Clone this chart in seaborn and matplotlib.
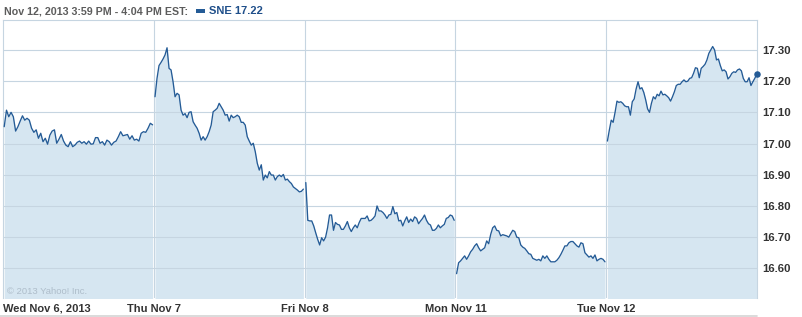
import numpy as np
import pandas as pd
import matplotlib
matplotlib.use("Agg")
import matplotlib.pyplot as plt
from matplotlib.lines import Line2D
from matplotlib.patches import Rectangle
import seaborn as sns

# ---------------- data ----------------
day_labels = ["Wed Nov 6, 2013", "Thu Nov 7", "Fri Nov 8", "Mon Nov 11", "Tue Nov 12"]

wed = [17.054, 17.107, 17.086, 17.100, 17.086, 17.040, 17.054, 17.072, 17.089, 17.075,
       17.081, 17.075, 17.049, 17.036, 17.044, 17.017, 17.033, 17.006, 17.017, 16.998,
       17.027, 17.040, 17.044, 17.001, 17.014, 17.029, 17.008, 16.995, 16.990, 17.006,
       16.990, 16.995, 17.004, 17.008, 17.001, 17.006, 16.998, 17.008, 16.998, 16.999,
       17.019, 17.019, 17.001, 17.006, 16.995, 17.011, 17.006, 16.995, 17.004, 17.008,
       17.022, 17.038, 17.025, 17.027, 17.029, 17.014, 17.025, 17.011, 17.014, 17.008,
       17.033, 17.038, 17.036, 17.049, 17.065, 17.060]

thu = [17.150, 17.209, 17.250, 17.260, 17.271, 17.284, 17.307, 17.241, 17.236, 17.198,
       17.150, 17.161, 17.156, 17.107, 17.091, 17.096, 17.083, 17.100, 17.102, 17.070,
       17.059, 17.049, 17.033, 17.011, 17.022, 17.011, 17.022, 17.038, 17.059, 17.102,
       17.107, 17.113, 17.129, 17.118, 17.107, 17.091, 17.093, 17.072, 17.091, 17.083,
       17.086, 17.091, 17.086, 17.068, 17.068, 17.059, 17.022, 17.008, 16.995, 17.001,
       16.974, 16.937, 16.915, 16.932, 16.883, 16.899, 16.890, 16.910, 16.899, 16.899,
       16.883, 16.894, 16.899, 16.894, 16.901, 16.883, 16.886, 16.878, 16.872, 16.861,
       16.856, 16.851, 16.845, 16.847, 16.854]

fri = [16.875, 16.754, 16.752, 16.752, 16.736, 16.714, 16.693, 16.675, 16.698, 16.688,
       16.700, 16.730, 16.771, 16.771, 16.722, 16.747, 16.741, 16.739, 16.725, 16.725,
       16.736, 16.750, 16.730, 16.718, 16.730, 16.739, 16.730, 16.747, 16.760, 16.760,
       16.760, 16.768, 16.752, 16.754, 16.760, 16.768, 16.800, 16.784, 16.784, 16.779,
       16.771, 16.760, 16.771, 16.773, 16.798, 16.775, 16.779, 16.752, 16.754, 16.736,
       16.752, 16.765, 16.747, 16.758, 16.750, 16.765, 16.760, 16.743, 16.752, 16.760,
       16.771, 16.754, 16.743, 16.739, 16.722, 16.722, 16.728, 16.739, 16.730, 16.736,
       16.741, 16.760, 16.763, 16.771, 16.768, 16.754]

mon = [16.583, 16.618, 16.624, 16.632, 16.640, 16.629, 16.640, 16.653, 16.661, 16.672,
       16.679, 16.666, 16.656, 16.661, 16.666, 16.688, 16.679, 16.709, 16.730, 16.736,
       16.722, 16.720, 16.704, 16.708, 16.706, 16.704, 16.700, 16.711, 16.722, 16.718,
       16.700, 16.698, 16.675, 16.668, 16.664, 16.656, 16.647, 16.645, 16.632, 16.629,
       16.626, 16.629, 16.624, 16.640, 16.632, 16.640, 16.629, 16.621, 16.621, 16.621,
       16.626, 16.634, 16.645, 16.658, 16.672, 16.672, 16.682, 16.686, 16.686, 16.679,
       16.672, 16.668, 16.682, 16.679, 16.650, 16.643, 16.636, 16.640, 16.632, 16.643,
       16.624, 16.629, 16.632, 16.629, 16.621]

tue = [17.008, 17.043, 17.075, 17.068, 17.100, 17.136, 17.132, 17.134, 17.129, 17.121,
       17.118, 17.118, 17.091, 17.134, 17.143, 17.175, 17.198, 17.175, 17.179, 17.164,
       17.140, 17.111, 17.100, 17.129, 17.150, 17.143, 17.158, 17.153, 17.168, 17.156,
       17.158, 17.153, 17.147, 17.136, 17.150, 17.166, 17.186, 17.190, 17.190, 17.198,
       17.204, 17.198, 17.200, 17.209, 17.211, 17.225, 17.243, 17.241, 17.211, 17.241,
       17.247, 17.254, 17.268, 17.289, 17.300, 17.311, 17.300, 17.268, 17.271, 17.250,
       17.233, 17.236, 17.230, 17.207, 17.214, 17.225, 17.230, 17.228, 17.236, 17.239,
       17.233, 17.209, 17.198, 17.198, 17.211, 17.186, 17.198, 17.209, 17.222]

y_ticks = [16.60, 16.70, 16.80, 16.90, 17.00, 17.10, 17.20, 17.30]
title_text = "Nov 12, 2013 3:59 PM - 4:04 PM EST:"
legend_text = "SNE 17.22"
copyright_text = "\u00a9 2013 Yahoo! Inc."

# ---------------- styling ----------------
sns.set_style("white")
plt.rcParams["font.family"] = ["Liberation Sans", "DejaVu Sans"]

LINE = "#245b96"
FILL = "#d6e6f1"
GRID = "#c6d5e1"
LABEL = "#333333"

days = [wed, thu, fri, mon, tue]
rows = []
for i, vals in enumerate(days):
    n = len(vals)
    end = i + 0.992 if i < len(days) - 1 else i + 0.998
    xs = np.linspace(i + 0.008, end, n)
    for x, v in zip(xs, vals):
        rows.append({"x": x, "price": v, "day": day_labels[i]})
df = pd.DataFrame(rows)

W, H = 802, 317
fig = plt.figure(figsize=(W / 100, H / 100), dpi=100)
left_px, right_px, top_px, bot_px = 3, 757, 20, 298
ax = fig.add_axes([left_px / W, 1 - bot_px / H, (right_px - left_px) / W, (bot_px - top_px) / H])

y_lo, y_hi = 16.505, 17.396
ax.set_xlim(0, 5)
ax.set_ylim(y_lo, y_hi)

# fills per day
for name, g in df.groupby("day", sort=False):
    ax.fill_between(g["x"], g["price"], y_lo - 0.1, color=FILL, lw=0, zorder=1)

# grid
for v in y_ticks:
    ax.axhline(v, color=GRID, lw=0.8, zorder=2)
for d in range(1, 5):
    ax.axvline(d, color=GRID, lw=0.8, zorder=0.5)

sns.lineplot(data=df, x="x", y="price", units="day", estimator=None, color=LINE,
             lw=0.95, ax=ax, zorder=3, legend=False)
last = df.iloc[-1]
ax.scatter([last["x"]], [last["price"]], s=22, color=LINE, zorder=4, clip_on=False, lw=0)

for side in ["left", "top", "right"]:
    ax.spines[side].set_color(GRID)
    ax.spines[side].set_linewidth(0.8)
ax.spines["bottom"].set_visible(False)

ax.yaxis.tick_right()
ax.set_yticks(y_ticks)
ax.set_yticklabels([f"{v:.2f}" for v in y_ticks], fontsize=8.2, fontweight="bold", color=LABEL)
ax.tick_params(axis="y", length=0, pad=4)
ax.set_xticks(range(5))
ax.set_xticklabels(day_labels, fontsize=8, fontweight="bold", color=LABEL)
ax.tick_params(axis="x", length=0, pad=4)
ax.get_xticklabels()[0].set_ha("left")
ax.set_xlabel("")
ax.set_ylabel("")

ax.text(0.0055, 0.0216, copyright_text, transform=ax.transAxes, fontsize=6.8,
        color="#aebdca", va="center", ha="left", zorder=5)

# title line
fig.text(4 / W, 1 - 11.5 / H, title_text, fontsize=7.7, fontweight="bold", color="#5c5c5c",
         va="center", ha="left")
fig.add_artist(Rectangle((196 / W, 1 - 13 / H), 9 / W, 4 / H, transform=fig.transFigure,
                         color=LINE, lw=0))
fig.text(209 / W, 1 - 11.5 / H, legend_text, fontsize=8, fontweight="bold", color="#1f4f8a",
         va="center", ha="left")

# bottom rule
fig.add_artist(Line2D([0, right_px / W], [0.8 / H, 0.8 / H], transform=fig.transFigure,
                      color="#d4d4d4", lw=1.2))

fig.savefig("out.png", dpi=100)
